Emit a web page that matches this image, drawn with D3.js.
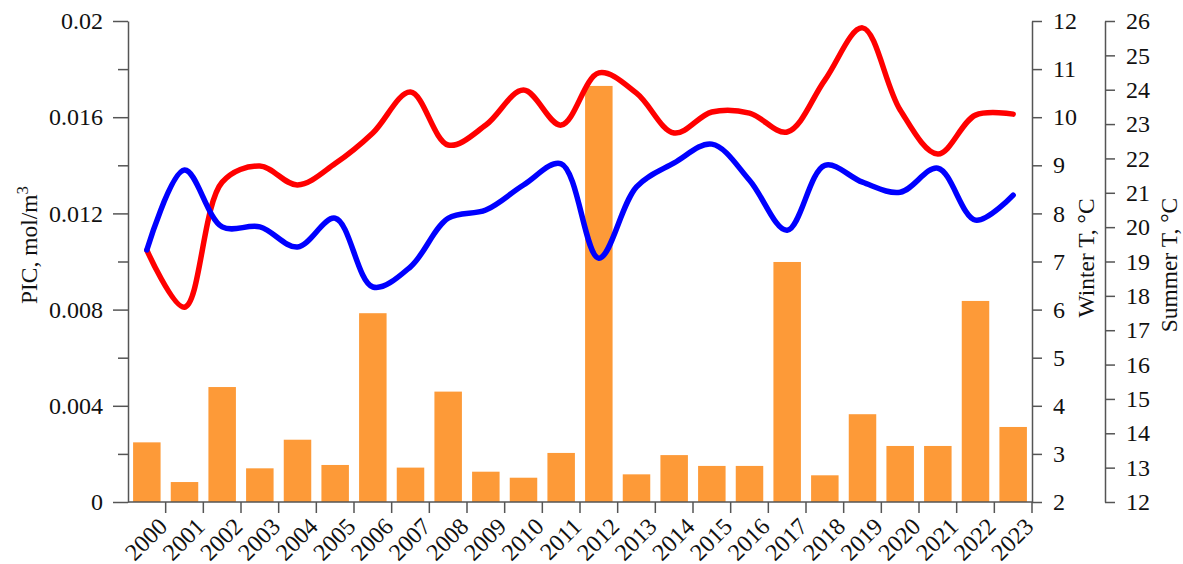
<!DOCTYPE html>
<html>
<head>
<meta charset="utf-8">
<script src="https://cdn.jsdelivr.net/npm/d3@7"></script>
<style>
  body { margin: 0; background: #fff; }
  svg { display: block; }
  .ax path, .ax line { stroke: #555; stroke-width: 1.5; }
  text { font-family: "Liberation Serif", "Times New Roman", serif; fill: #111; }
</style>
</head>
<body>
<div id="chart"></div>
<script>
// data
var years = ["2000","2001","2002","2003","2004","2005","2006","2007","2008","2009","2010","2011",
             "2012","2013","2014","2015","2016","2017","2018","2019","2020","2021","2022","2023"];
var pic = [0.00248, 0.00083, 0.00478, 0.0014, 0.00259, 0.00154, 0.00785, 0.00143, 0.00459, 0.00126, 0.00101, 0.00204,
           0.0173, 0.00115, 0.00195, 0.0015, 0.0015, 0.00998, 0.00111, 0.00365, 0.00233, 0.00233, 0.00836, 0.00312];
var winterT = [7.24, 8.90, 7.72, 7.72, 7.30, 7.90, 6.47, 6.89, 7.90, 8.07, 8.59, 9.03,
               7.07, 8.55, 9.05, 9.44, 8.69, 7.65, 9.00, 8.65, 8.44, 8.94, 7.86, 8.38];
var summerT = [19.33, 17.67, 21.31, 21.78, 21.23, 21.85, 22.74, 23.93, 22.39, 22.97, 23.99, 22.97,
               24.49, 23.90, 22.74, 23.35, 23.32, 22.77, 24.28, 25.80, 23.41, 22.13, 23.26, 23.29];
var picTicks = [0, 0.004, 0.008, 0.012, 0.016, 0.02];
var picMinor = [0.002, 0.006, 0.01, 0.014, 0.018];
var winterTicks = [2, 3, 4, 5, 6, 7, 8, 9, 10, 11, 12];
var summerTicks = [12, 13, 14, 15, 16, 17, 18, 19, 20, 21, 22, 23, 24, 25, 26];

var W = 1183, H = 564;
var plotL = 128, plotR = 1032, plotT = 21, plotB = 502;
var summerAxisX = 1105;

var svg = d3.select("#chart").append("svg")
    .attr("width", W).attr("height", H);

var x = d3.scaleBand().domain(years).range([plotL, plotR]).paddingInner(0.27).paddingOuter(0.135);
var step = x.step();
function cx(i) { return x(years[i]) + x.bandwidth() / 2; }

var yPic = d3.scaleLinear().domain([0, 0.02]).range([plotB, plotT]);
var yWin = d3.scaleLinear().domain([2, 12]).range([plotB, plotT]);
var ySum = d3.scaleLinear().domain([12, 26]).range([plotB, plotT]);

// bars
svg.append("g").selectAll("rect")
    .data(pic)
    .enter()
    .append("rect")
    .attr("x", function(d, i) { return x(years[i]); })
    .attr("width", x.bandwidth())
    .attr("y", function(d) { return yPic(d); })
    .attr("height", function(d) { return yPic(0) - yPic(d); })
    .attr("fill", "#fd9a38");

// lines
var lineSum = d3.line()
    .x(function(d, i) { return cx(i); })
    .y(function(d) { return ySum(d); })
    .curve(d3.curveCatmullRom.alpha(0.5));
var lineWin = d3.line()
    .x(function(d, i) { return cx(i); })
    .y(function(d) { return yWin(d); })
    .curve(d3.curveCatmullRom.alpha(0.5));

svg.append("path").datum(summerT)
    .attr("d", lineSum)
    .attr("fill", "none").attr("stroke", "#ff0000").attr("stroke-width", 5.5)
    .attr("stroke-linecap", "round").attr("stroke-linejoin", "round");
svg.append("path").datum(winterT)
    .attr("d", lineWin)
    .attr("fill", "none").attr("stroke", "#0000ff").attr("stroke-width", 5.5)
    .attr("stroke-linecap", "round").attr("stroke-linejoin", "round");

// left axis
var gL = svg.append("g").attr("class", "ax").attr("transform", "translate(" + plotL + ",0)");
gL.call(d3.axisLeft(yPic).tickValues(picTicks).tickSize(15).tickSizeOuter(0).tickPadding(10)
    .tickFormat(function(d) { return String(d); }));
gL.append("g").call(d3.axisLeft(yPic).tickValues(picMinor).tickSize(10).tickFormat(""))
    .select(".domain").remove();
gL.selectAll("text").attr("font-size", 24).attr("fill", "#111")
    .style("font-family", "Liberation Serif");

// bottom axis
var gB = svg.append("g").attr("class", "ax").attr("transform", "translate(0," + plotB + ")");
gB.append("line").attr("x1", plotL).attr("x2", plotR).attr("y1", 0).attr("y2", 0);
var ticksB = gB.selectAll(".tk").data(years).enter().append("g").attr("class", "tk")
    .attr("transform", function(d) { return "translate(" + (x(d) + x.bandwidth() + (step - x.bandwidth()) / 2) + ",0)"; });
ticksB.append("line").attr("y1", 0).attr("y2", 11);
ticksB.append("text")
    .attr("transform", "translate(3,26) rotate(-45)")
    .attr("text-anchor", "end")
    .attr("font-size", 24)
    .text(function(d) { return d; });

// winter axis
var gW = svg.append("g").attr("class", "ax").attr("transform", "translate(" + plotR + ",0)");
gW.call(d3.axisRight(yWin).tickValues(winterTicks).tickSize(10).tickSizeOuter(0).tickPadding(11).tickFormat(d3.format("d")));
gW.selectAll("text").attr("font-size", 24).attr("fill", "#111").style("font-family", "Liberation Serif");

// summer axis
var gS = svg.append("g").attr("class", "ax").attr("transform", "translate(" + summerAxisX + ",0)");
gS.call(d3.axisRight(ySum).tickValues(summerTicks).tickSize(10).tickSizeOuter(0).tickPadding(11).tickFormat(d3.format("d")));
gS.selectAll("text").attr("font-size", 24).attr("fill", "#111").style("font-family", "Liberation Serif");
svg.selectAll(".ax .domain").attr("fill", "none");

// titles
var tL = svg.append("text")
    .attr("transform", "translate(37,245) rotate(-90)")
    .attr("text-anchor", "middle")
    .attr("font-size", 23.5);
tL.append("tspan").text("PIC, mol/m");
tL.append("tspan").attr("font-size", 17).attr("dy", -9).text("3");

svg.append("text")
    .attr("transform", "translate(1094,258) rotate(-90)")
    .attr("text-anchor", "middle")
    .attr("font-size", 23.5)
    .text("Winter T, °C");

svg.append("text")
    .attr("transform", "translate(1177,265) rotate(-90)")
    .attr("text-anchor", "middle")
    .attr("font-size", 23.5)
    .text("Summer T, °C");
</script>
</body>
</html>
